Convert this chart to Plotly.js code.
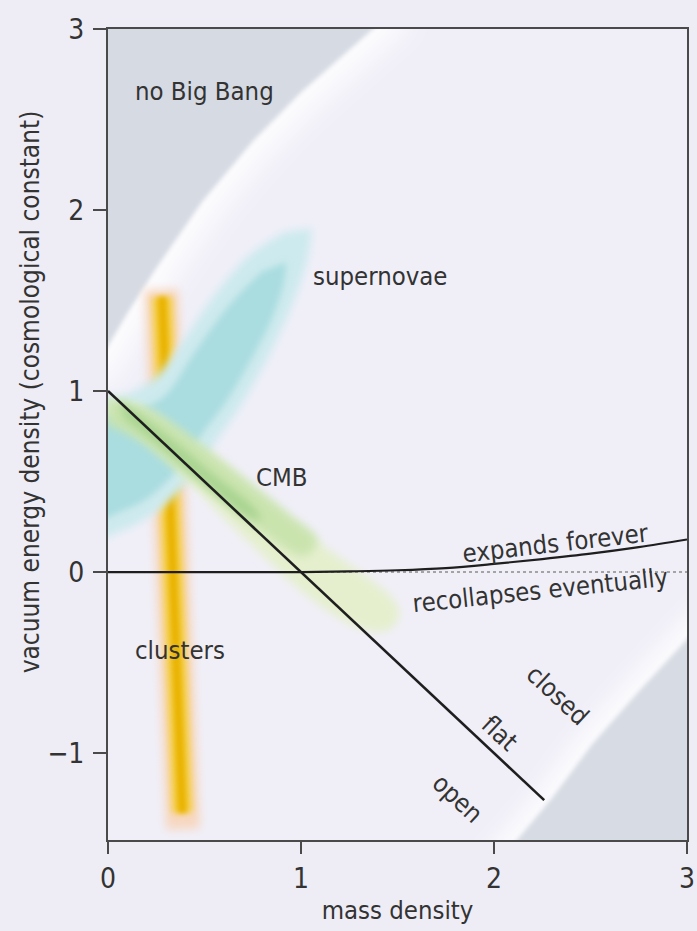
<!DOCTYPE html>
<html>
<head>
<meta charset="utf-8">
<script src="https://cdn.plot.ly/plotly-3.0.1.min.js"></script>
<style>
  html, body { margin: 0; padding: 0; background: #eeedf6; }
  #chart { width: 697px; height: 931px; }
</style>
</head>
<body>
<div id="chart"></div>
<script>
// ---------------- data (mass density, vacuum energy density) ----------------
const xTickVals = [0, 1, 2, 3];
const xTickText = ['0', '1', '2', '3'];
const yTickVals = [-1, 0, 1, 2, 3];
const yTickText = ['\u22121', '0', '1', '2', '3'];

// edge of the "no Big Bang" region
const noBangX = [-0.1, 0, 0.1, 0.25, 0.49, 0.75, 1.0, 1.2, 1.37, 1.5];
const noBangY = [1.08, 1.25, 1.43, 1.68, 2.05, 2.38, 2.65, 2.84, 3.0, 3.12];
const noBangFarX = [1.6, -0.2, -0.2];
const noBangFarY = [3.3, 3.3, 1.0];

// edge of the shaded region at high mass density
const lowX = [1.95, 2.12, 2.3, 2.51, 2.75, 3.0, 3.15];
const lowY = [-1.68, -1.48, -1.25, -0.95, -0.66, -0.37, -0.2];
const lowFarX = [3.3, 3.3];
const lowFarY = [-0.2, -1.7];

// galaxy-cluster constraint (centre line of the band)
const cluHaloX = [0.276, 0.389];
const cluHaloY = [1.56, -1.42];
const cluCoreX = [0.28, 0.385];
const cluCoreY = [1.52, -1.33];

// supernova constraint: outer and inner contours
const snHaloX = [1.059, 1.033, 0.965, 0.861, 0.706, 0.566, 0.431, 0.265, 0.083, -0.047, -0.047, 0.083, 0.239, 0.379, 0.550, 0.732, 0.913];
const snHaloY = [1.901, 1.724, 1.503, 1.254, 0.950, 0.729, 0.519, 0.343, 0.232, 0.199, 0.950, 0.978, 1.072, 1.265, 1.530, 1.751, 1.878];
const snCoreX = [0.924, 0.908, 0.846, 0.768, 0.618, 0.483, 0.358, 0.213, 0.057, -0.047, -0.047, 0.109, 0.280, 0.457, 0.628, 0.794];
const snCoreY = [1.713, 1.586, 1.392, 1.227, 0.950, 0.757, 0.564, 0.414, 0.331, 0.298, 0.840, 0.884, 0.961, 1.227, 1.475, 1.657];

// CMB constraint: outer, middle and inner contours
const cmbOuterX = [-0.005, 0.161, 0.368, 0.576, 0.784, 0.991, 1.199, 1.380, 1.484, 1.510, 1.458, 1.328, 1.147, 0.965, 0.784, 0.602, 0.420, 0.239, 0.083, -0.005];
const cmbOuterY = [0.961, 0.923, 0.773, 0.608, 0.425, 0.249, 0.083, -0.055, -0.155, -0.238, -0.320, -0.320, -0.221, -0.072, 0.110, 0.298, 0.497, 0.685, 0.812, 0.867];
const cmbMidX = [-0.005, 0.213, 0.472, 0.732, 0.939, 1.085, 1.017, 0.794, 0.576, 0.368, 0.161, -0.005];
const cmbMidY = [0.950, 0.895, 0.713, 0.497, 0.320, 0.177, 0.088, 0.221, 0.398, 0.564, 0.729, 0.812];
const cmbCoreX = [0.057, 0.317, 0.550, 0.758, 0.794, 0.706, 0.498, 0.291, 0.083];
const cmbCoreY = [0.950, 0.746, 0.536, 0.354, 0.287, 0.315, 0.492, 0.674, 0.851];

// flat universe: vacuum = 1 - mass
const flatX = [0, 2.26];
const flatY = [1, -1.26];

// zero vacuum energy
const zeroX = [0, 1];
const zeroY = [0, 0];
const zeroDotX = [1, 3];
const zeroDotY = [0, 0];

// boundary between expanding forever and recollapsing
const expandX = [1, 1.25, 1.5, 1.75, 2, 2.25, 2.5, 2.75, 3];
const expandY = [0, 0.004, 0.01, 0.022, 0.045, 0.072, 0.102, 0.138, 0.18];

// region labels
const labelText  = ['no Big Bang', 'supernovae', 'CMB', 'clusters', 'expands forever', 'recollapses eventually', 'closed', 'flat', 'open'];
const labelX     = [0.5, 1.41, 0.9, 0.375, 2.32, 2.24, 2.33, 2.03, 1.81];
const labelY     = [2.66, 1.635, 0.525, -0.43, 0.16, -0.10, -0.68, -0.89, -1.25];
const labelAngle = [0, 0, 0, 0, -6.5, -6, 43, 43, 43];

// ---------------- drawing ----------------
const FONT = '"Liberation Sans Narrow", "Arial Narrow", "DejaVu Sans Condensed", "Liberation Sans", sans-serif';
const traces = [];
const softness = [];   // gaussian blur (px) applied to each trace, 0 = crisp

function region(x, y, color, blur, opts) {
  traces.push(Object.assign({
    type: 'scatter', mode: 'lines', x: x, y: y,
    fill: 'toself', fillcolor: color,
    line: {width: 0, color: color, shape: 'spline', smoothing: 1},
    hoverinfo: 'skip'
  }, opts || {}));
  softness.push(blur);
}
function stroke(x, y, color, width, blur, dash, shape) {
  traces.push({
    type: 'scatter', mode: 'lines', x: x, y: y,
    line: {width: width, color: color, dash: dash || 'solid', shape: shape || 'linear'},
    hoverinfo: 'skip'
  });
  softness.push(blur);
}

// no Big Bang region with its bright rim
stroke(noBangX, noBangY, 'rgba(255,255,255,0.8)', 44, 13, 'solid', 'spline');
region(noBangX.concat(noBangFarX), noBangY.concat(noBangFarY), '#d6dae3', 2, {line: {width: 0, shape: 'linear'}});

// high-density region with its bright rim
stroke(lowX, lowY, 'rgba(255,255,255,0.75)', 32, 10, 'solid', 'spline');
region(lowX.concat(lowFarX), lowY.concat(lowFarY), '#d7dbe3', 2, {line: {width: 0, shape: 'linear'}});

// clusters
stroke(cluHaloX, cluHaloY, '#f7d7c0', 34, 5);
stroke(cluCoreX, cluCoreY, '#f5cf4a', 21, 3);
stroke(cluCoreX, cluCoreY, '#e9b300', 9, 2.5);

// supernovae
region(snHaloX, snHaloY, '#cdeaee', 4);
region(snCoreX, snCoreY, '#aadde0', 3);

// CMB
region(cmbOuterX, cmbOuterY, 'rgba(228,240,202,0.9)', 5);
region(cmbMidX, cmbMidY, 'rgba(198,227,170,0.88)', 5);
region(cmbCoreX, cmbCoreY, 'rgba(160,208,138,0.8)', 4);

// reference lines
stroke(zeroDotX, zeroDotY, '#8a8a8a', 1.5, 0, 'dot');
stroke(zeroX, zeroY, '#1e1e1e', 2.2, 0);
stroke(expandX, expandY, '#1e1e1e', 2.2, 0, 'solid', 'spline');
stroke(flatX, flatY, '#1e1e1e', 2.6, 0);

const annotations = labelText.map((t, i) => ({
  x: labelX[i], y: labelY[i], xref: 'x', yref: 'y',
  text: t, textangle: labelAngle[i], showarrow: false,
  xanchor: 'center', yanchor: 'middle',
  font: {family: FONT, size: 25.5, color: '#333333'}
}));
annotations.push({
  xref: 'paper', yref: 'paper', x: -0.135, y: 0.553,
  text: 'vacuum energy density (cosmological constant)',
  textangle: -90, showarrow: false, xanchor: 'center', yanchor: 'middle',
  font: {family: FONT, size: 26, color: '#333333'}
});

const axisCommon = {
  ticks: 'outside', tickwidth: 2, tickcolor: '#4a4a4a',
  showline: true, linecolor: '#4a4a4a', linewidth: 2, mirror: true,
  showgrid: false, zeroline: false, fixedrange: true,
  tickfont: {family: FONT, size: 28, color: '#333333'}
};

const layout = {
  width: 697, height: 931,
  paper_bgcolor: '#eeedf6',
  plot_bgcolor: '#f0eff8',
  margin: {l: 108, r: 10, t: 29, b: 91},
  showlegend: false,
  font: {family: FONT, color: '#333333'},
  xaxis: Object.assign({}, axisCommon, {
    range: [0, 3], tickmode: 'array', tickvals: xTickVals, ticktext: xTickText, ticklen: 12,
    title: {text: 'mass density', font: {family: FONT, size: 25.5, color: '#333333'}, standoff: 8}
  }),
  yaxis: Object.assign({}, axisCommon, {
    range: [-1.48, 3], tickmode: 'array', tickvals: yTickVals, ticktext: yTickText, ticklen: 13,
    ticklabelstandoff: 3
  }),
  annotations: annotations
};

// soften the edges of the shaded constraint regions
function softenEdges(gd) {
  const NS = 'http://www.w3.org/2000/svg';
  const defs = gd.querySelector('svg.main-svg defs');
  const groups = gd.querySelectorAll('.scatterlayer > .trace');
  softness.forEach((sd, i) => {
    if (!sd || !groups[i]) return;
    const id = 'soft-' + String(sd).replace('.', '_');
    if (!document.getElementById(id)) {
      const f = document.createElementNS(NS, 'filter');
      f.setAttribute('id', id);
      f.setAttribute('filterUnits', 'userSpaceOnUse');
      f.setAttribute('x', '-300'); f.setAttribute('y', '-300');
      f.setAttribute('width', '1300'); f.setAttribute('height', '1500');
      const b = document.createElementNS(NS, 'feGaussianBlur');
      b.setAttribute('stdDeviation', String(sd));
      f.appendChild(b);
      defs.appendChild(f);
    }
    groups[i].setAttribute('filter', 'url(#' + id + ')');
  });
}

const gd = document.getElementById('chart');
Plotly.newPlot(gd, traces, layout, {staticPlot: true, displayModeBar: false})
  .then(() => softenEdges(gd));
</script>
</body>
</html>
